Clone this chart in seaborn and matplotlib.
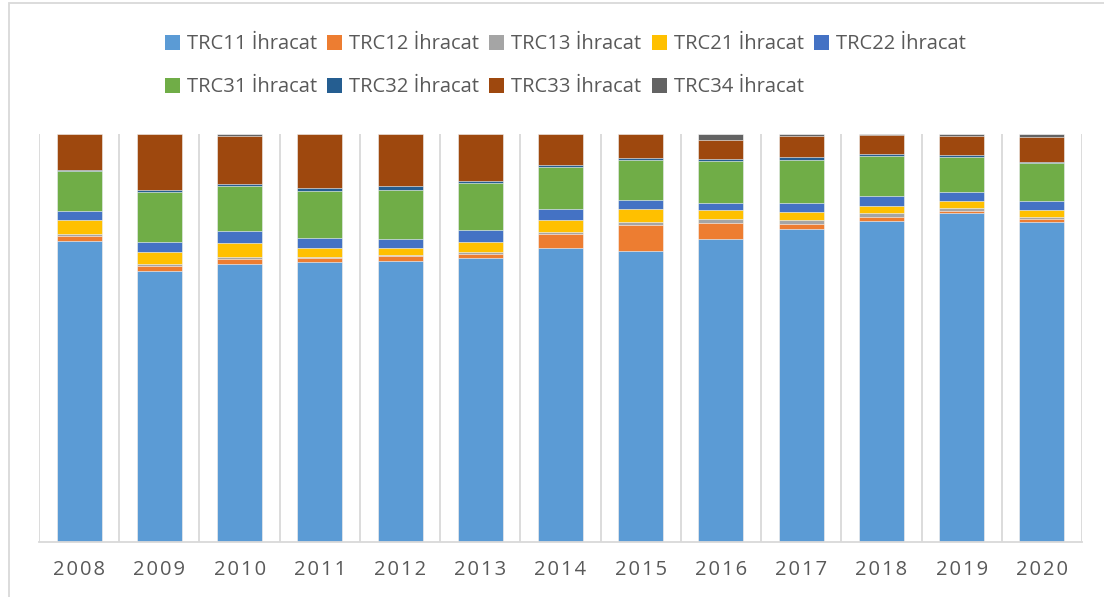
import numpy as np
import pandas as pd
import matplotlib
matplotlib.use("Agg")
import matplotlib.pyplot as plt
from matplotlib.patches import Patch, Rectangle
import seaborn as sns

years = ["2008", "2009", "2010", "2011", "2012", "2013", "2014",
         "2015", "2016", "2017", "2018", "2019", "2020"]

# share of each region in exports (%)
trc11 = [73.7, 66.4, 67.9, 68.6, 69.1, 69.7, 72.1, 71.5, 74.1, 76.6, 78.7, 80.6, 78.3]
trc12 = [1.3, 1.3, 1.3, 0.9, 1.3, 0.9, 3.4, 6.2, 3.9, 1.4, 0.9, 0.6, 0.7]
trc13 = [0.6, 0.3, 0.5, 0.4, 0.2, 0.4, 0.6, 0.8, 1.2, 1.0, 1.1, 0.7, 0.6]
trc21 = [3.4, 2.9, 3.4, 2.1, 1.6, 2.5, 2.7, 3.2, 2.2, 1.9, 1.7, 1.6, 1.6]
trc22 = [2.2, 2.5, 3.0, 2.5, 2.4, 2.9, 2.8, 2.1, 1.7, 2.3, 2.3, 2.2, 2.4]
trc31 = [9.7, 12.3, 11.0, 11.6, 11.9, 11.5, 10.2, 9.9, 10.2, 10.5, 9.9, 8.7, 9.1]
trc32 = [0.3, 0.4, 0.5, 0.7, 1.0, 0.6, 0.6, 0.4, 0.5, 0.6, 0.5, 0.5, 0.4]
trc33 = [8.7, 13.7, 11.8, 13.2, 12.7, 11.4, 7.5, 5.9, 4.6, 5.3, 4.6, 4.6, 6.0]
trc34 = [0.1, 0.1, 0.4, 0.0, 0.1, 0.1, 0.1, 0.1, 1.5, 0.4, 0.3, 0.5, 0.8]

series = ["TRC11 İhracat", "TRC12 İhracat", "TRC13 İhracat", "TRC21 İhracat",
          "TRC22 İhracat", "TRC31 İhracat", "TRC32 İhracat", "TRC33 İhracat",
          "TRC34 İhracat"]
colors = ["#5B9BD5", "#ED7D31", "#A5A5A5", "#FFC000", "#4472C4",
          "#70AD47", "#255E91", "#9E480E", "#636363"]

df = pd.DataFrame(
    np.array([trc11, trc12, trc13, trc21, trc22, trc31, trc32, trc33, trc34]).T,
    index=years, columns=series)
# 100% stacked: normalise each year
share = df.div(df.sum(axis=1), axis=0) * 100
cum = share.cumsum(axis=1)

sns.set_theme(style="white")
plt.rcParams["font.family"] = ["Open Sans", "DejaVu Sans"]
text_col = "#595959"

fig = plt.figure(figsize=(11.04, 5.97), dpi=100)
ax = fig.add_axes([39 / 1104, 55 / 597, 1043 / 1104, 408 / 597])

# draw cumulative totals from the top layer down so each one covers the rest
for name, col in zip(series[::-1], colors[::-1]):
    sns.barplot(x=cum.index, y=cum[name].values, color=col, saturation=1,
                width=0.56, edgecolor="white", linewidth=0.4, ax=ax)

ax.set_ylim(0, 100)
ax.set_xlim(-0.5, len(years) - 0.5)
ax.set_yticks([])
ax.set_xlabel("")
ax.set_ylabel("")

# vertical separators between categories
ax.set_xticks(np.arange(-0.5, len(years), 1.0), minor=True)
ax.grid(which="minor", axis="x", color="#d9d9d9", linewidth=1.3)
ax.set_axisbelow(True)
for side in ["top", "left", "right"]:
    ax.spines[side].set_visible(False)
ax.spines["bottom"].set_color("#d9d9d9")
ax.spines["bottom"].set_linewidth(1.3)

ax.set_xticks(range(len(years)))
ax.set_xticklabels(["\u200a".join(y) for y in years], fontsize=14.5,
                   color=text_col)
ax.tick_params(axis="x", which="both", length=0, pad=13)

# legend fills column by column, so reorder to read row by row
order = [0, 5, 1, 6, 2, 7, 3, 8, 4]
handles = [Patch(facecolor=colors[i], edgecolor="none") for i in order]
labels = [series[i] for i in order]
fig.legend(handles, labels, loc="upper center", bbox_to_anchor=(0.512, 0.973),
           ncol=5, frameon=False, fontsize=14.5, labelcolor=text_col,
           handlelength=0.75, handleheight=0.75, handletextpad=0.35,
           columnspacing=0.5, labelspacing=1.15)

# light chart frame as in the original
fig.add_artist(Rectangle((9 / 1104, -0.1), 1.2, 0.1 + 594 / 597,
                         transform=fig.transFigure, fill=False,
                         edgecolor="#d9d9d9", linewidth=1.3))

fig.savefig("out.png", dpi=100)
